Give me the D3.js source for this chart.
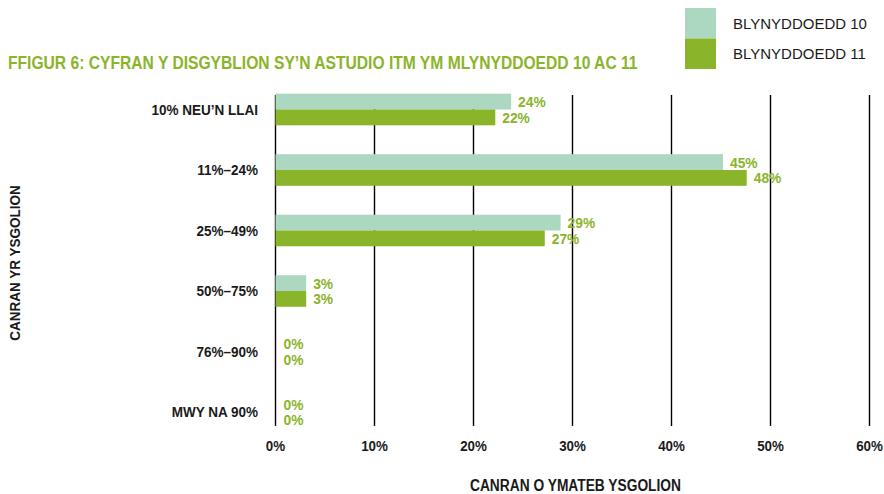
<!DOCTYPE html>
<html><head><meta charset="utf-8">
<script src="https://cdn.jsdelivr.net/npm/d3@7"></script>
<style>
html,body{margin:0;padding:0;background:#fff;}
svg{display:block;}
</style></head>
<body>
<svg id="chart" width="884" height="494"></svg>
<script>
const categories = ["10% NEU’N LLAI","11%–24%","25%–49%","50%–75%","76%–90%","MWY NA 90%"];
const seriesNames = ["BLYNYDDOEDD 10","BLYNYDDOEDD 11"];
const year10 = [23.8, 45.2, 28.8, 3.1, 0, 0];
const year11 = [22.2, 47.6, 27.2, 3.1, 0, 0];
const labels10 = ["24%","45%","29%","3%","0%","0%"];
const labels11 = ["22%","48%","27%","3%","0%","0%"];
const xTicks = [0,10,20,30,40,50,60];
const title = "FFIGUR 6: CYFRAN Y DISGYBLION SY’N ASTUDIO ITM YM MLYNYDDOEDD 10 AC 11";
const xTitle = "CANRAN O YMATEB YSGOLION";
const yTitle = "CANRAN YR YSGOLION";

const colors = ["#acd8c2", "#8ab42a"];
const green = "#8ab42a";
const dark = "#1a1a1a";
const FONT = "'Liberation Sans', Arial, sans-serif";

// condense helper (emulates a condensed typeface)
function condense(sel, k){
  sel.each(function(){
    const w = this.getComputedTextLength();
    d3.select(this).attr("textLength", w*k).attr("lengthAdjust","spacingAndGlyphs");
  });
}

const svg = d3.select("#chart");
const x = d3.scaleLinear().domain([0,60]).range([275.5, 869.5]);
const y = d3.scaleBand().domain(categories).range([79.25, 442.25]).paddingInner(0).paddingOuter(0);
const barH = 15.8;

// gridlines
const gTop = y(categories[0]) + y.bandwidth()/2 - 14.5;
const gBot = y(categories[categories.length-1]) + y.bandwidth()/2 + 14;
svg.append("g").selectAll("line").data(xTicks).join("line")
  .attr("x1", d=>x(d)).attr("x2", d=>x(d))
  .attr("y1", gTop).attr("y2", gBot)
  .attr("stroke", "#000").attr("stroke-width", 1.4);

// x tick labels
svg.append("g").selectAll("text").data(xTicks).join("text")
  .attr("x", d=>x(d)).attr("y", 451)
  .attr("text-anchor","middle")
  .attr("font-family", FONT).attr("font-weight","bold").attr("font-size", 14.5)
  .attr("fill", dark)
  .text(d=>d+"%")
  .call(condense, 0.92);

// bars
const data = categories.map((c,i)=>({c, v:[year10[i], year11[i]], l:[labels10[i], labels11[i]]}));
const grp = svg.append("g").selectAll("g").data(data).join("g");
[0,1].forEach(s=>{
  grp.append("rect")
    .attr("x", x(0))
    .attr("y", d => y(d.c) + y.bandwidth()/2 - barH + s*barH)
    .attr("width", d => x(d.v[s]) - x(0))
    .attr("height", barH)
    .attr("fill", colors[s]);
  grp.append("text")
    .attr("x", d => x(d.v[s]) + (d.v[s] > 0 ? 7 : 8))
    .attr("y", d => y(d.c) + y.bandwidth()/2 - barH/2 + s*barH)
    .attr("dy", "0.36em")
    .attr("font-family", FONT).attr("font-weight","bold").attr("font-size", 15)
    .attr("fill", green)
    .text(d => d.l[s])
    .call(condense, 0.92);
});

// category labels
svg.append("g").selectAll("text").data(categories).join("text")
  .attr("x", 258).attr("y", d => y(d) + y.bandwidth()/2)
  .attr("dy","0.36em").attr("text-anchor","end")
  .attr("font-family", FONT).attr("font-weight","bold").attr("font-size", 15)
  .attr("fill", dark)
  .text(d=>d)
  .call(condense, 0.9);

// title
svg.append("text").attr("x", 8).attr("y", 69)
  .attr("font-family", FONT).attr("font-weight","bold").attr("font-size", 17.5)
  .attr("fill", green).text(title)
  .call(condense, 0.893);

// axis titles
svg.append("text").attr("x", 575.5).attr("y", 490.5).attr("text-anchor","middle")
  .attr("font-family", FONT).attr("font-weight","bold").attr("font-size", 16)
  .attr("fill", dark).text(xTitle)
  .call(condense, 0.86);
svg.append("text").attr("transform","translate(20,263) rotate(-90)").attr("text-anchor","middle")
  .attr("font-family", FONT).attr("font-weight","bold").attr("font-size", 15)
  .attr("fill", dark).text(yTitle)
  .call(condense, 0.9);

// legend
const lg = svg.append("g").selectAll("g").data(seriesNames).join("g")
  .attr("transform", (d,i)=>`translate(685,${8 + i*30.5})`);
lg.append("rect").attr("width",31).attr("height",30.5).attr("fill",(d,i)=>colors[i]);
lg.append("text").attr("x", 48).attr("y", 15.5).attr("dy","0.36em")
  .attr("font-family", FONT).attr("font-size", 15)
  .attr("fill", dark).text(d=>d);
</script>
</body></html>
